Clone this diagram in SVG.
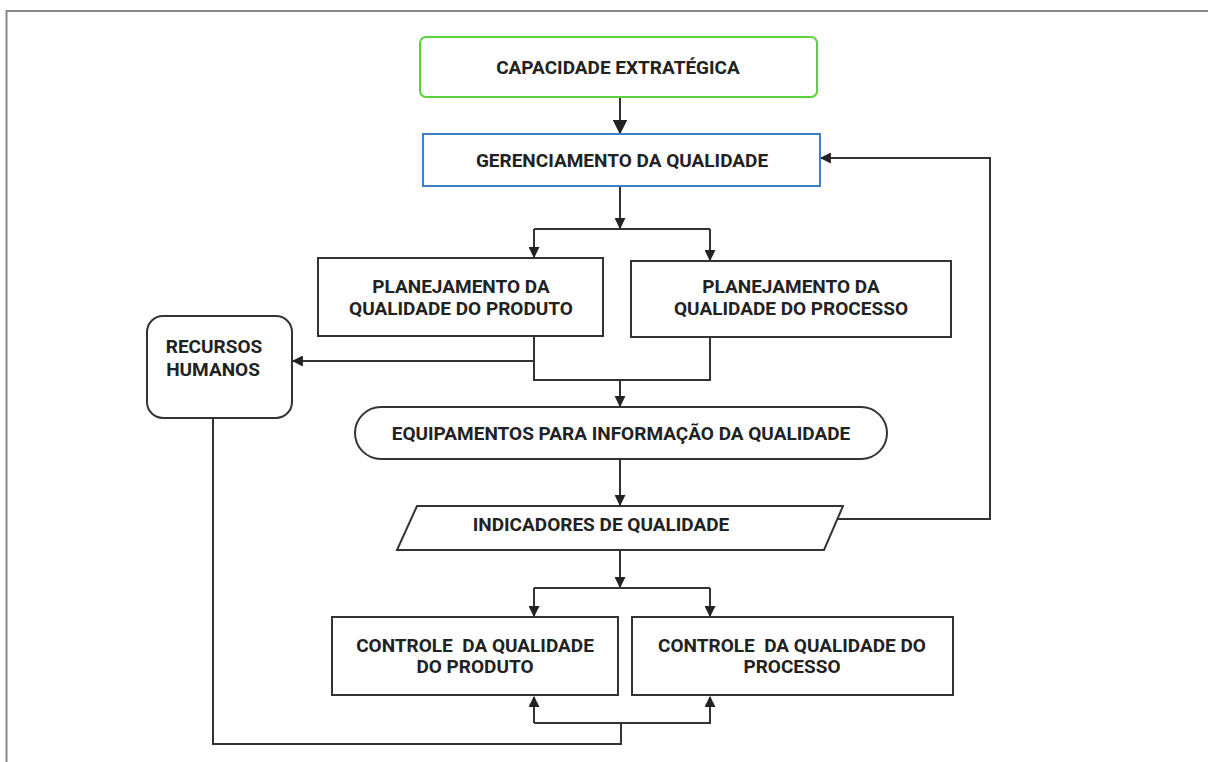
<svg xmlns="http://www.w3.org/2000/svg" width="1208" height="762" viewBox="0 0 1208 762">
  <style>
    .box { fill: #ffffff; stroke: #333333; stroke-width: 2; }
    .lbl { font-family: Roboto, "Liberation Sans", sans-serif; font-weight: bold; font-size: 19px; fill: #222222; text-anchor: middle; }
    .wire { fill: none; stroke: #333333; stroke-width: 2; }
  </style>
  <defs>
    <marker id="arrow" viewBox="0 0 10 10" refX="9" refY="5" markerWidth="11" markerHeight="11" markerUnits="userSpaceOnUse" orient="auto">
      <path d="M0,0 L10,5 L0,10 z" fill="#222222"/>
    </marker>
    <marker id="arrowBig" viewBox="0 0 10 10" refX="9" refY="5" markerWidth="15" markerHeight="15" markerUnits="userSpaceOnUse" orient="auto">
      <path d="M0,0 L10,5 L0,10 z" fill="#222222"/>
    </marker>
  </defs>

  <rect width="1208" height="762" fill="#ffffff"/>
  <!-- page frame -->
  <path d="M6.5,762 V11 H1208" fill="none" stroke="#888888" stroke-width="2"/>

  <g id="connectors">
    <path class="wire" d="M620,97 V133" marker-end="url(#arrowBig)"/>
    <path class="wire" d="M620,187 V228" marker-end="url(#arrow)"/>
    <path class="wire" d="M534,229 H710"/>
    <path class="wire" d="M534,229 V257" marker-end="url(#arrow)"/>
    <path class="wire" d="M710,229 V260" marker-end="url(#arrow)"/>
    <path class="wire" d="M534,337 V361 H293" marker-end="url(#arrow)"/>
    <path class="wire" d="M534,361 V380 H710 V338"/>
    <path class="wire" d="M620,380 V406" marker-end="url(#arrow)"/>
    <path class="wire" d="M620,460 V505" marker-end="url(#arrow)"/>
    <path class="wire" d="M836,519 H990 V158 H821" marker-end="url(#arrow)"/>
    <path class="wire" d="M620,551 V587" marker-end="url(#arrow)"/>
    <path class="wire" d="M534,588 H710"/>
    <path class="wire" d="M534,588 V616" marker-end="url(#arrow)"/>
    <path class="wire" d="M710,588 V616" marker-end="url(#arrow)"/>
    <path class="wire" d="M534,723 V697" marker-end="url(#arrow)"/>
    <path class="wire" d="M534,723 H710 V697" marker-end="url(#arrow)"/>
    <path class="wire" d="M621,723 V744 H213 V418"/>
  </g>

  <g id="capacidade">
    <rect x="420" y="37" width="397" height="60" rx="6" fill="#ffffff" stroke="#5ad43a" stroke-width="2"/>
    <text class="lbl" x="618" y="74">CAPACIDADE EXTRATÉGICA</text>
  </g>

  <g id="gerenciamento">
    <rect x="423" y="134" width="397" height="52" fill="#ffffff" stroke="#3d80c8" stroke-width="2"/>
    <text class="lbl" x="622" y="167">GERENCIAMENTO DA QUALIDADE</text>
  </g>

  <g id="planejamento-produto">
    <rect class="box" x="318" y="258" width="285" height="78"/>
    <text class="lbl" x="461" y="293">PLANEJAMENTO DA</text>
    <text class="lbl" x="461" y="315">QUALIDADE DO PRODUTO</text>
  </g>

  <g id="planejamento-processo">
    <rect class="box" x="631" y="261" width="320" height="76"/>
    <text class="lbl" x="791" y="293">PLANEJAMENTO DA</text>
    <text class="lbl" x="791" y="315">QUALIDADE DO PROCESSO</text>
  </g>

  <g id="recursos-humanos">
    <rect class="box" x="147" y="316" width="145" height="102" rx="16"/>
    <text class="lbl" x="214" y="353">RECURSOS</text>
    <text class="lbl" x="213" y="376">HUMANOS</text>
  </g>

  <g id="equipamentos">
    <rect class="box" x="355" y="407" width="532" height="52" rx="26"/>
    <text class="lbl" x="621" y="440">EQUIPAMENTOS PARA INFORMAÇÃO DA QUALIDADE</text>
  </g>

  <g id="indicadores">
    <polygon class="box" points="417,506 843,506 824,550 397,550"/>
    <text class="lbl" x="601" y="531">INDICADORES DE QUALIDADE</text>
  </g>

  <g id="controle-produto">
    <rect class="box" x="332" y="617" width="286" height="78"/>
    <text class="lbl" x="475" y="652" xml:space="preserve">CONTROLE  DA QUALIDADE</text>
    <text class="lbl" x="475" y="673">DO PRODUTO</text>
  </g>

  <g id="controle-processo">
    <rect class="box" x="632" y="617" width="321" height="78"/>
    <text class="lbl" x="792" y="652" xml:space="preserve">CONTROLE  DA QUALIDADE DO</text>
    <text class="lbl" x="792" y="673">PROCESSO</text>
  </g>
</svg>
